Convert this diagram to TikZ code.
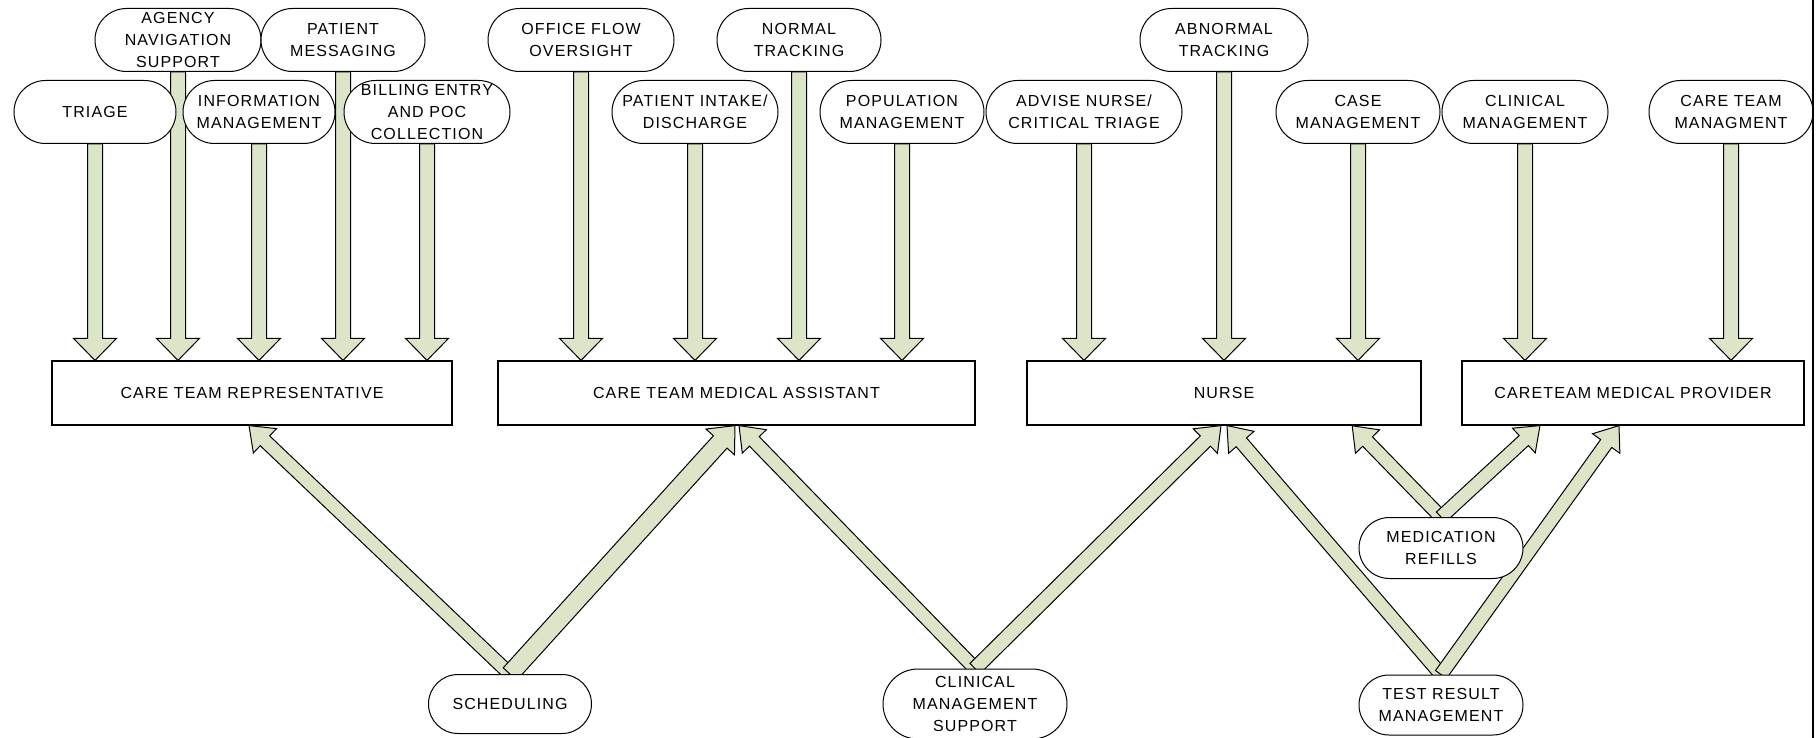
\documentclass[tikz,border=0pt]{standalone}
\usepackage{fontspec}
\setmainfont{Liberation Sans}[LetterSpace=7]
\usetikzlibrary{shapes.misc,calc,backgrounds}
\definecolor{sage}{RGB}{221,229,201}

% block arrow: #1 half shaft, #2 half head, #3 from, #4 to
\newcommand{\fatarrow}[4]{%
  \filldraw[arrow style] let \p1=(#3), \p2=(#4),
    \n1={atan2(\y2-\y1,\x2-\x1)}, \n2={veclen(\x2-\x1,\y2-\y1)} in
    [shift={(\p1)}, rotate=\n1]
    (0pt,-#1pt) -- ({\n2-11pt},-#1pt) -- ({\n2-11pt},-#2pt) -- ({\n2},0pt)
    -- ({\n2-11pt},#2pt) -- ({\n2-11pt},#1pt) -- (0pt,#1pt) -- cycle;}

\begin{document}
\begin{tikzpicture}[x=0.5pt,y=-0.5pt]
\tikzset{task style/.style={shape=rounded rectangle, draw=black, fill=white, line width=0.5pt,
    inner sep=0pt, minimum height=31.5pt, align=center, font={\fontsize{8}{11}\selectfont}},
  role style/.style={shape=rectangle, draw=black, fill=white, line width=0.6pt,
    minimum height=32pt, font={\fontsize{8}{11}\selectfont}},
  arrow style/.style={fill=sage, draw=black, line width=0.5pt}}

\useasboundingbox (0,0) rectangle (1816,738);

\node[task style, minimum width=83pt] at (178,40)    (agency)   {AGENCY\\NAVIGATION\\SUPPORT};
\node[task style, minimum width=82pt] at (343,40)    (patmsg)   {PATIENT\\MESSAGING};
\node[task style, minimum width=93pt] at (581,40)    (office)   {OFFICE FLOW\\OVERSIGHT};
\node[task style, minimum width=82pt] at (799,40)    (normal)   {NORMAL\\TRACKING};
\node[task style, minimum width=84pt] at (1224,40)   (abnormal) {ABNORMAL\\TRACKING};

\node[task style, minimum width=81pt] at (95,112)    (triage)     {TRIAGE};
\node[task style, minimum width=76pt] at (259,112)   (info)       {INFORMATION\\MANAGEMENT};
\node[task style, minimum width=83pt] at (427,112)   (billing)    {BILLING ENTRY\\AND POC\\COLLECTION};
\node[task style, minimum width=83pt] at (695,112)   (intake)     {PATIENT INTAKE/\\DISCHARGE};
\node[task style, minimum width=82pt] at (902,112)   (population) {POPULATION\\MANAGEMENT};
\node[task style, minimum width=98pt] at (1084,112)  (advise)     {ADVISE NURSE/\\CRITICAL TRIAGE};
\node[task style, minimum width=82pt] at (1358,112)  (case)       {CASE\\MANAGEMENT};
\node[task style, minimum width=83pt] at (1525,112)  (clinical)   {CLINICAL\\MANAGEMENT};
\node[task style, minimum width=82pt] at (1731,112)  (ctmgmt)     {CARE TEAM\\MANAGMENT};

\node[role style, minimum width=200pt]   at (252,393)   (ctr)   {CARE TEAM REPRESENTATIVE};
\node[role style, minimum width=238.5pt] at (736.5,393) (ctma)  {CARE TEAM MEDICAL ASSISTANT};
\node[role style, minimum width=197pt]   at (1224,393)  (nurse) {NURSE};
\node[role style, minimum width=171pt]   at (1633,393)  (ctmp)  {CARETEAM MEDICAL PROVIDER};

\node[task style, minimum width=81.5pt, minimum height=29.5pt] at (510,704)  (sched)   {SCHEDULING};
\node[task style, minimum width=92pt, minimum height=35pt]     at (975,704)  (cms)     {CLINICAL\\MANAGEMENT\\SUPPORT};
\node[task style, minimum width=82pt, minimum height=30.5pt]   at (1441,548) (medref)  {MEDICATION\\REFILLS};
\node[task style, minimum width=82pt, minimum height=30pt]     at (1441,705) (testres) {TEST RESULT\\MANAGEMENT};

\begin{pgfonlayer}{background}
\foreach \src/\dst in {triage/ctr, agency/ctr, info/ctr, patmsg/ctr, billing/ctr,
    office/ctma, intake/ctma, normal/ctma, population/ctma,
    advise/nurse, abnormal/nurse, case/nurse, clinical/ctmp, ctmgmt/ctmp}
  \fatarrow{3.75}{10.75}{\src.south}{\src.south |- \dst.north};

\fatarrow{3.4}{8.4}{sched.north}{249,0 |- ctr.south};
\fatarrow{4.6}{9.6}{sched.north}{735,0 |- ctma.south};
\fatarrow{3.4}{8.4}{cms.north}{739,0 |- ctma.south};
\fatarrow{3.6}{8.6}{cms.north}{1221,0 |- nurse.south};
\fatarrow{3.4}{8.4}{testres.north}{1227,0 |- nurse.south};
\fatarrow{3.4}{8.4}{testres.north}{1619,0 |- ctmp.south};
\fatarrow{3.4}{8.4}{medref.north}{1352,0 |- nurse.south};
\fatarrow{3.4}{8.4}{medref.north}{1540,0 |- ctmp.south};
\end{pgfonlayer}

\draw[line width=1pt] (1813,0) -- (1813,738);
\end{tikzpicture}
\end{document}
